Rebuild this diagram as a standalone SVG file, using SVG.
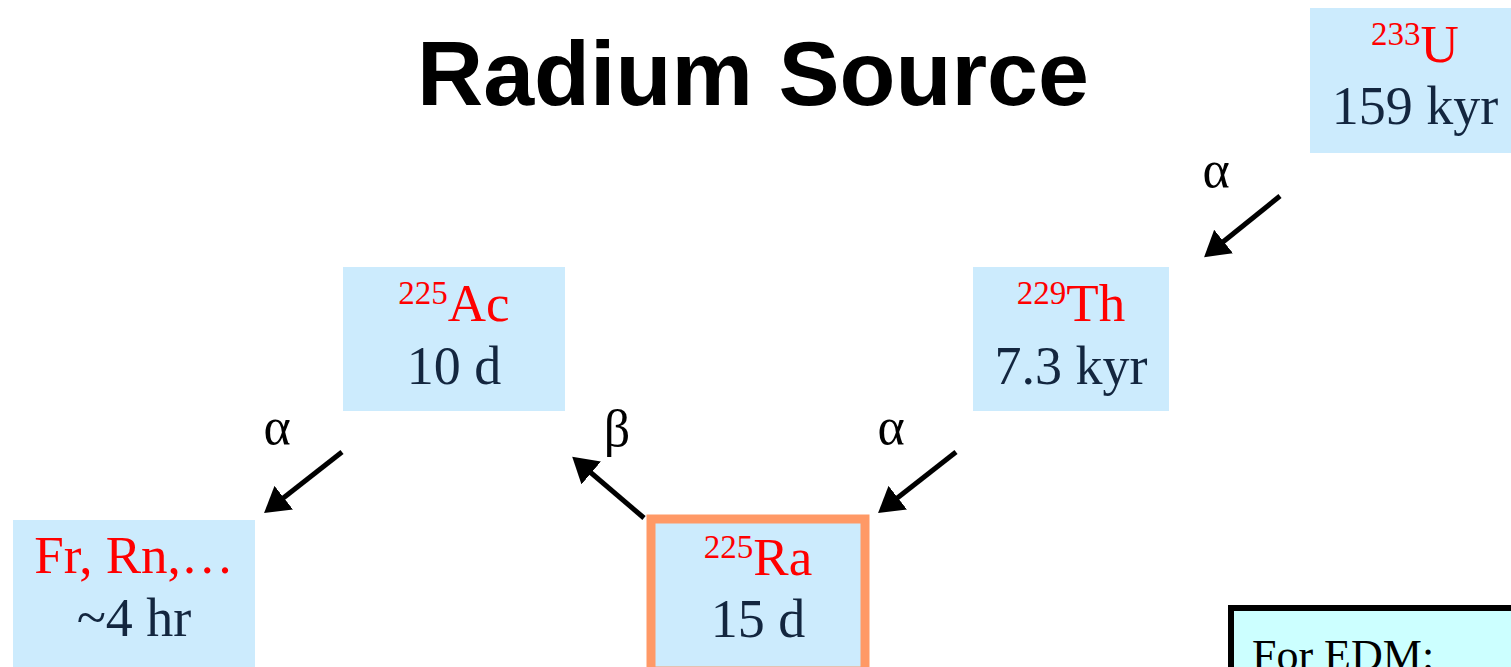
<svg xmlns="http://www.w3.org/2000/svg" width="1511" height="667" viewBox="0 0 1511 667">
<style>
.box{fill:#CCEBFD}
.ra{fill:#CCEBFD;stroke:#FF9966;stroke-width:9}
.iso{font-family:"Liberation Serif",serif;font-size:53px;fill:#FF0000;text-anchor:middle}
.sup{font-size:33px}
.hl{font-family:"Liberation Serif",serif;font-size:54px;fill:#13263F;text-anchor:middle}
.gk{font-family:"Liberation Serif","DejaVu Serif",serif;font-size:52px;fill:#000;text-anchor:middle}
.arr{stroke:#000;stroke-width:5;fill:none;marker-end:url(#ah)}
</style>
<defs>
<marker id="ah" markerWidth="6" markerHeight="6" refX="4" refY="3" orient="auto" markerUnits="strokeWidth">
<path d="M0,0 L5,3 L0,6 Z" fill="#000"/>
</marker>
</defs>
<rect width="1511" height="667" fill="#fff"/>
<text x="753" y="105" font-family="'Liberation Sans',sans-serif" font-weight="bold" font-size="90" text-anchor="middle" fill="#000" textLength="672" lengthAdjust="spacingAndGlyphs">Radium Source</text>

<g id="u233">
<rect class="box" x="1310" y="8" width="210" height="145"/>
<text class="iso" x="1415" y="62"><tspan class="sup" dy="-17">233</tspan><tspan dy="17">U</tspan></text>
<text class="hl" x="1415" y="124">159 kyr</text>
</g>
<g id="th229">
<rect class="box" x="973" y="267" width="196" height="144"/>
<text class="iso" x="1071" y="321"><tspan class="sup" dy="-17">229</tspan><tspan dy="17">Th</tspan></text>
<text class="hl" x="1071" y="384">7.3 kyr</text>
</g>
<g id="ac225">
<rect class="box" x="343" y="267" width="222" height="144"/>
<text class="iso" x="454" y="321"><tspan class="sup" dy="-17">225</tspan><tspan dy="17">Ac</tspan></text>
<text class="hl" x="454" y="384">10 d</text>
</g>
<g id="fr">
<rect class="box" x="13" y="520" width="242" height="147"/>
<text class="iso" x="134" y="573">Fr, Rn,…</text>
<text class="hl" x="134" y="636">~4 hr</text>
</g>
<g id="ra225">
<rect class="ra" x="651" y="519" width="214" height="152"/>
<text class="iso" x="758" y="575"><tspan class="sup" dy="-17">225</tspan><tspan dy="17">Ra</tspan></text>
<text class="hl" x="758" y="637">15 d</text>
</g>
<g id="edm">
<rect x="1231" y="608" width="290" height="80" fill="#CCFFFF" stroke="#000" stroke-width="6"/>
<text x="1252" y="670" font-family="'Liberation Serif',serif" font-size="44" fill="#000">For EDM:</text>
</g>

<g id="connectors">
<line class="arr" x1="1280" y1="196" x2="1208" y2="254"/>
<line class="arr" x1="956" y1="452" x2="882" y2="510"/>
<line class="arr" x1="342" y1="452" x2="268" y2="510"/>
<line class="arr" x1="644" y1="518" x2="576" y2="460"/>
<text class="gk" x="1216" y="187">α</text>
<text class="gk" x="891" y="444">α</text>
<text class="gk" x="277" y="444">α</text>
<text class="gk" x="617" y="446">β</text>
</g>
</svg>
